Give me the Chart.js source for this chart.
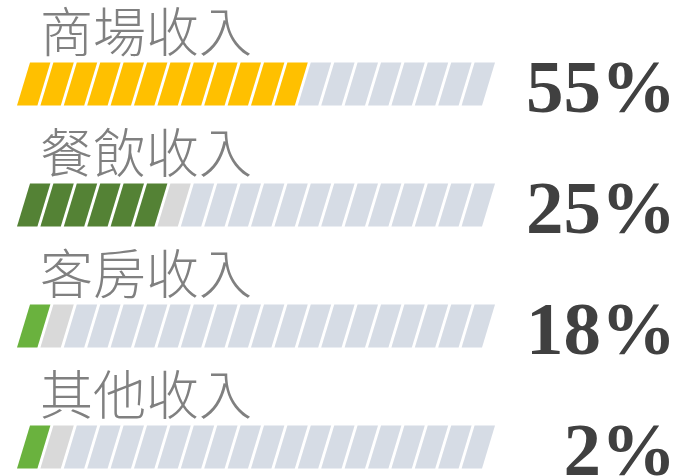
<!DOCTYPE html>
<html>
<head>
<meta charset="utf-8">
<script src="https://cdn.jsdelivr.net/npm/chart.js@4"></script>
<style>
  html, body { margin: 0; padding: 0; background: #fff; }
</style>
</head>
<body>
<canvas id="income-share" width="680" height="476"></canvas>
<script>
// Income share infographic

const categories = ['商場收入', '餐飲收入', '客房收入', '其他收入'];
const percents = [55, 25, 18, 2];
const filledSegments = [12, 6, 1, 1];
const markerSegments = [0, 1, 1, 1];
const totalSegments = 20;

const fillColors = ['#FFC000', '#548235', '#6AB23E', '#6AB23E'];
const markerColor = '#D9D9D9';
const emptyColor = '#D6DCE5';

const slant = 13;
const gap = 3;

// one dataset per segment, each row a category
const datasets = [];
for (let j = 0; j < totalSegments; j++) {
    datasets.push({
        data: categories.map(() => 1),
        backgroundColor: categories.map((c, r) => {
            if (j < filledSegments[r]) return fillColors[r];
            if (j < filledSegments[r] + markerSegments[r]) return markerColor;
            return emptyColor;
        })
    });
}

// draw segments as slanted blocks, plus titles and percentages
const slantedBars = {
    id: 'slantedBars',
    beforeDatasetsDraw(chart) {
        const ctx = chart.ctx;
        chart.data.datasets.forEach((ds, j) => {
            chart.getDatasetMeta(j).data.forEach(bar => {
                const { x, y, base, height } = bar.getProps(['x', 'y', 'base', 'height'], true);
                const top = y - height / 2;
                const bottom = y + height / 2;
                ctx.beginPath();
                ctx.moveTo(base, bottom);
                ctx.lineTo(x - gap, bottom);
                ctx.lineTo(x - gap + slant, top);
                ctx.lineTo(base + slant, top);
                ctx.closePath();
                ctx.fillStyle = bar.options.backgroundColor;
                ctx.fill();
            });
        });
        return false;
    },
    afterDraw(chart) {
        const ctx = chart.ctx;
        const first = chart.getDatasetMeta(0).data;
        ctx.save();
        first.forEach((bar, r) => {
            const { y, height } = bar.getProps(['y', 'height'], true);
            ctx.fillStyle = '#808080';
            ctx.font = '300 53px "Noto Sans CJK TC"';
            ctx.textAlign = 'left';
            ctx.textBaseline = 'middle';
            ctx.fillText(categories[r], 40, y - height / 2 - 31);

            ctx.fillStyle = '#404040';
            ctx.font = 'bold 75px "Liberation Serif"';
            ctx.textAlign = 'right';
            ctx.textBaseline = 'alphabetic';
            ctx.fillText(percents[r] + '%', 676, y + 28);
        });
        ctx.restore();
    }
};

new Chart(document.getElementById('income-share'), {
    type: 'bar',
    data: { labels: categories, datasets: datasets },
    options: {
        indexAxis: 'y',
        responsive: false,
        animation: false,
        barThickness: 43,
        layout: { padding: { left: 17, right: 195, top: 84, bottom: 29 } },
        scales: {
            x: { stacked: true, min: 0, max: totalSegments, display: false },
            y: { stacked: true, offset: false, display: false }
        },
        plugins: {
            legend: { display: false },
            tooltip: { enabled: false }
        }
    },
    plugins: [slantedBars]
});
</script>
</body>
</html>
